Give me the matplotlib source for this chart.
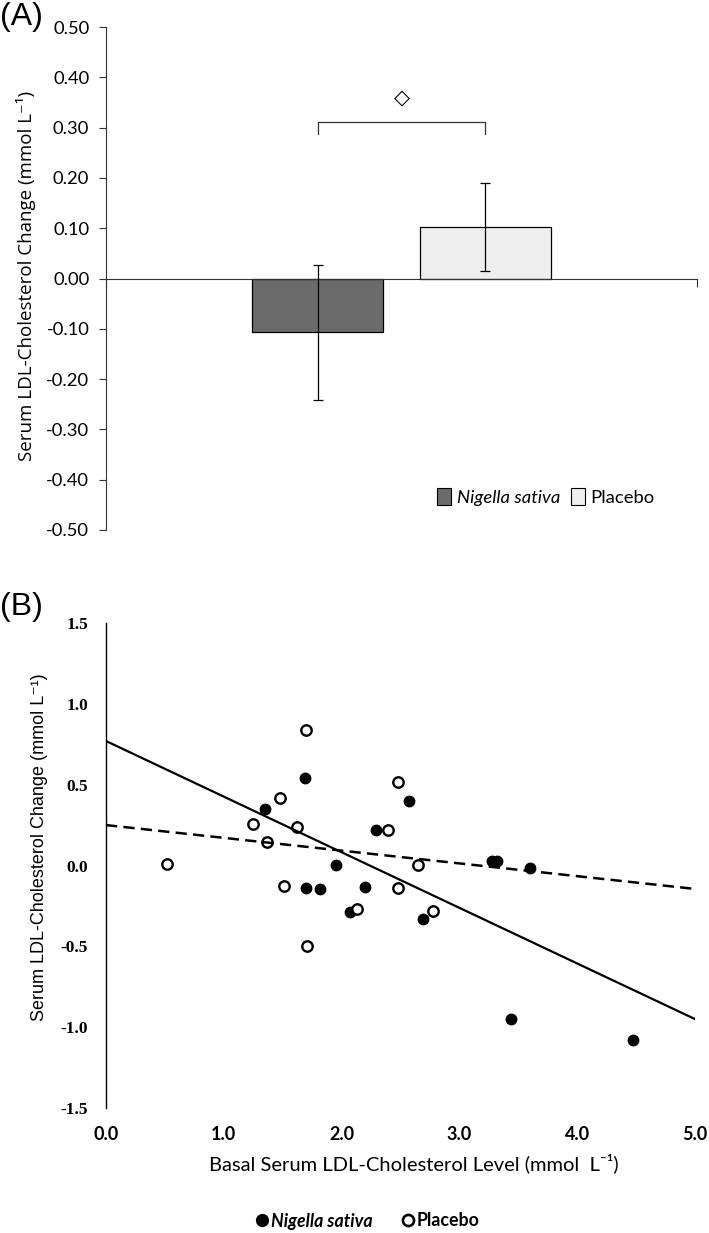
import numpy as np
import matplotlib
matplotlib.use("Agg")
import matplotlib.pyplot as plt
from matplotlib.patches import Patch
from matplotlib.lines import Line2D

# ---------------- data ----------------
groups = ["Nigella sativa", "Placebo"]
mean_change = [-0.107, 0.102]
sem_change = [0.134, 0.088]
bar_colors = ["#6b6b6b", "#eeeeee"]
a_yticks = [-0.5, -0.4, -0.3, -0.2, -0.1, 0.0, 0.1, 0.2, 0.3, 0.4, 0.5]

ns_basal = [1.69, 1.35, 2.57, 2.29, 1.95, 3.28, 3.32, 3.60, 1.70, 1.82, 2.195, 2.07, 2.69, 3.44, 4.47]
ns_change = [0.54, 0.35, 0.40, 0.22, 0.004, 0.03, 0.03, -0.015, -0.1375, -0.146, -0.135, -0.29, -0.333, -0.947, -1.08]
pl_basal = [0.52, 1.70, 2.475, 1.48, 1.25, 1.62, 1.37, 2.39, 2.65, 1.51, 2.475, 2.13, 2.78, 1.71]
pl_change = [0.01, 0.84, 0.515, 0.42, 0.256, 0.24, 0.146, 0.217, 0.004, -0.125, -0.1375, -0.27, -0.283, -0.496]
ns_fit = (0.77, -0.344)   # intercept, slope
pl_fit = (0.25, -0.079)
b_xticks = [0.0, 1.0, 2.0, 3.0, 4.0, 5.0]
b_yticks = [-1.5, -1.0, -0.5, 0.0, 0.5, 1.0, 1.5]

ylabel_txt = "Serum LDL-Cholesterol Change (mmol L\u207b\u00b9)"
xlabel_txt = "Basal Serum LDL-Cholesterol Level (mmol  L\u207b\u00b9)"

W, H = 709, 1233
fig = plt.figure(figsize=(W / 100, H / 100), dpi=100)

def fx(px):
    return px / W

def fy(py):
    return 1 - py / H

CAL = ["Lato", "DejaVu Sans"]
OPEN = ["Open Sans", "DejaVu Sans"]

# ---------------- panel A ----------------
axA = fig.add_axes([fx(106), fy(530), fx(697) - fx(106), fy(27) - fy(530)])
bar_x = [0.358, 0.642]
axA.bar(bar_x, mean_change, width=0.223, color=bar_colors, edgecolor="black",
        linewidth=0.9, zorder=2)
axA.errorbar(bar_x, mean_change, yerr=sem_change, fmt="none", ecolor="black",
             elinewidth=0.9, capsize=3.5, capthick=0.9, zorder=3)
axA.set_xlim(0, 1)
axA.set_ylim(-0.5, 0.5)
for s in ["top", "right"]:
    axA.spines[s].set_visible(False)
axA.spines["bottom"].set_position(("data", 0))
axA.spines["left"].set_color("#333333")
axA.spines["bottom"].set_color("#333333")
axA.set_xticks([0, 1])
axA.set_xticklabels(["", ""])
axA.tick_params(axis="x", direction="out", length=6, color="#333333")
axA.set_yticks(a_yticks)
axA.set_yticklabels([f"{v:.2f}".replace("\u2212", "-") for v in a_yticks],
                    fontfamily=CAL, fontsize=13.2)
axA.tick_params(axis="y", direction="out", length=5, color="#333333", pad=7)

# significance bracket
x0, x1 = bar_x
axA.plot([x0, x0, x1, x1], [0.288, 0.312, 0.312, 0.288], color="#333333", lw=0.9)
axA.text((x0 + x1) / 2, 0.358, "\u25c7", ha="center", va="center",
         fontsize=15, fontfamily=["DejaVu Sans"])

handlesA = [Patch(facecolor=bar_colors[0], edgecolor="black", linewidth=0.8),
            Patch(facecolor=bar_colors[1], edgecolor="black", linewidth=0.8)]
legA = fig.legend(handlesA, groups, loc="center", bbox_to_anchor=(fx(546), fy(497)),
                  ncol=2, frameon=False, handlelength=0.75, handleheight=1.0,
                  handletextpad=0.3, columnspacing=0.6,
                  prop={"family": CAL, "size": 13.3})
legA.get_texts()[0].set_style("italic")

fig.text(fx(26), fy(276), ylabel_txt, rotation=90, ha="center", va="center",
         fontsize=13.5, fontfamily=OPEN)
fig.text(fx(0), fy(17), "(A)", ha="left", va="center", fontsize=23,
         fontfamily=["Liberation Sans"])

# ---------------- panel B ----------------
axB = fig.add_axes([fx(106), fy(1108), fx(695) - fx(106), fy(623) - fy(1108)])
axB.plot(ns_basal, ns_change, linestyle="none", marker="o", markersize=7.5,
         markerfacecolor="black", markeredgecolor="black", zorder=2)
axB.plot(pl_basal, pl_change, linestyle="none", marker="o", markersize=7.5,
         markerfacecolor="white", markeredgecolor="black", markeredgewidth=1.7,
         zorder=2)
xs = np.array([0.0, 5.0])
axB.plot(xs, ns_fit[0] + ns_fit[1] * xs, color="black", lw=1.6, zorder=3)
axB.plot(xs, pl_fit[0] + pl_fit[1] * xs, color="black", lw=1.8,
         linestyle=(0, (4.5, 2.5)), zorder=3)
axB.set_xlim(0, 5)
axB.set_ylim(-1.5, 1.5)
for s in ["top", "right", "bottom"]:
    axB.spines[s].set_visible(False)
axB.spines["left"].set_linewidth(1.0)
axB.set_xticks(b_xticks)
axB.set_xticklabels([f"{v:.1f}" for v in b_xticks], fontfamily=CAL, fontsize=13,
                    fontweight="bold")
axB.set_yticks(b_yticks)
axB.set_yticklabels([f"{v:.1f}".replace("\u2212", "-") for v in b_yticks],
                    fontfamily=["Liberation Serif"], fontsize=12.5, fontweight="bold")
axB.tick_params(axis="x", length=0, pad=13)
axB.tick_params(axis="y", length=0, pad=13)

fig.text(fx(40), fy(847), ylabel_txt, rotation=90, ha="center", va="center",
         fontsize=13, fontfamily=["Liberation Sans", "DejaVu Sans"])
fig.text(fx(414), fy(1163), xlabel_txt, ha="center", va="center",
         fontsize=14.5, fontfamily=CAL)
fig.text(fx(0), fy(607), "(B)", ha="left", va="center", fontsize=23,
         fontfamily=["Liberation Sans"])

handlesB = [Line2D([], [], linestyle="none", marker="o", markersize=8.5,
                   markerfacecolor="black", markeredgecolor="black"),
            Line2D([], [], linestyle="none", marker="o", markersize=8,
                   markerfacecolor="white", markeredgecolor="black",
                   markeredgewidth=1.9)]
legB = fig.legend(handlesB, groups, loc="center", bbox_to_anchor=(fx(368), fy(1221)),
                  ncol=2, frameon=False, handlelength=0.6, handletextpad=0.2,
                  columnspacing=1.7,
                  prop={"family": CAL, "size": 12.8, "weight": "bold"})
legB.get_texts()[0].set_style("italic")

fig.savefig("out.png", dpi=100)
